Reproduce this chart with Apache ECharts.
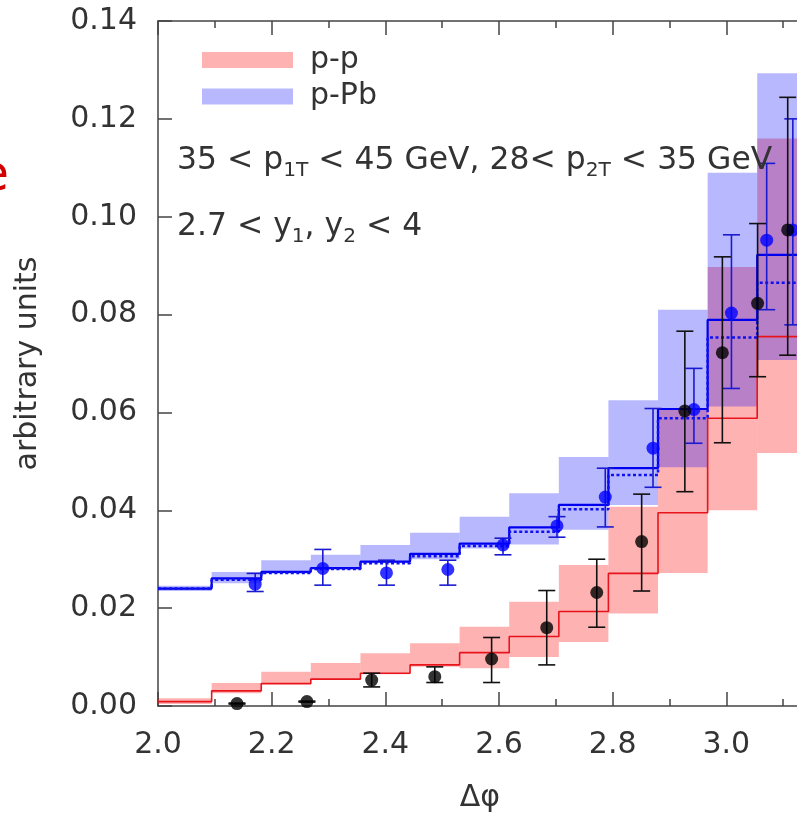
<!DOCTYPE html>
<html><head><meta charset="utf-8">
<script src="https://cdn.jsdelivr.net/npm/echarts@6/dist/echarts.min.js"></script>
<style>html,body{margin:0;padding:0;background:#fff}#c{width:797px;height:819px}</style>
</head><body><div id="c"></div>
<script>
// ---- data ----
const binEdges = [2.0, 2.0944, 2.1817, 2.2689, 2.3562, 2.4435, 2.5307, 2.6180, 2.7053, 2.7925, 2.8798, 2.9671, 3.0543, 3.1416];

const ppLine = [0.0009, 0.0031, 0.0046, 0.0055, 0.0067, 0.0084, 0.0109, 0.0142, 0.0193, 0.0271, 0.0395, 0.0588, 0.0755];
const ppBandLow  = [0.0004, 0.0026, 0.0043, 0.0053, 0.0065, 0.0080, 0.0077, 0.0100, 0.0131, 0.0189, 0.0272, 0.0400, 0.0517];
const ppBandHigh = [0.0016, 0.0047, 0.0070, 0.0088, 0.0108, 0.0128, 0.0162, 0.0213, 0.0288, 0.0407, 0.0605, 0.0897, 0.1160];

const pPbLine   = [0.0240, 0.0261, 0.0274, 0.0282, 0.0295, 0.0311, 0.0332, 0.0365, 0.0411, 0.0486, 0.0607, 0.0789, 0.0922];
const pPbDashed = [0.0240, 0.0258, 0.0272, 0.0280, 0.0292, 0.0306, 0.0327, 0.0356, 0.0402, 0.0472, 0.0588, 0.0753, 0.0865];
const pPbBandLow  = [0.0235, 0.0251, 0.0271, 0.0278, 0.0292, 0.0300, 0.0322, 0.0330, 0.0360, 0.0411, 0.0488, 0.0612, 0.0707];
const pPbBandHigh = [0.0246, 0.0274, 0.0298, 0.0309, 0.0329, 0.0354, 0.0387, 0.0435, 0.0509, 0.0625, 0.0810, 0.1090, 0.1293];

const ppPointX   = [2.139, 2.262, 2.376, 2.487, 2.587, 2.684, 2.772, 2.851, 2.927, 2.993, 3.055, 3.108];
const ppPointY   = [0.0005, 0.0009, 0.0053, 0.0060, 0.0096, 0.0160, 0.0232, 0.0336, 0.0603, 0.0722, 0.0823, 0.0973];
const ppErrLow   = [0.0004, 0.0008, 0.0039, 0.0048, 0.0048, 0.0084, 0.0161, 0.0235, 0.0438, 0.0538, 0.0673, 0.0717];
const ppErrHigh  = [0.0006, 0.0010, 0.0067, 0.0080, 0.0140, 0.0236, 0.0300, 0.0433, 0.0766, 0.0918, 0.0986, 0.1244];

const pPbPointX  = [2.171, 2.290, 2.402, 2.510, 2.607, 2.702, 2.787, 2.871, 2.943, 3.009, 3.071, 3.117];
const pPbPointY  = [0.0249, 0.0281, 0.0272, 0.0279, 0.0329, 0.0368, 0.0427, 0.0527, 0.0606, 0.0803, 0.0952, 0.0973];
const pPbErrLow  = [0.0234, 0.0247, 0.0247, 0.0247, 0.0309, 0.0345, 0.0366, 0.0447, 0.0537, 0.0649, 0.0810, 0.0779];
const pPbErrHigh = [0.0271, 0.0320, 0.0298, 0.0298, 0.0343, 0.0387, 0.0486, 0.0608, 0.0690, 0.0963, 0.1109, 0.1200];

const legendNames = ['p-p', 'p-Pb'];
const xTickInterval = 0.2;
const yTickInterval = 0.02;

// ---- helpers ----
const FONT = 'DejaVu Sans';
const TXT = '#333333';
const AX = '#444444';
function stepData(vals) {
  const d = vals.map((v, i) => [binEdges[i], v]);
  d.push([binEdges[binEdges.length - 1], vals[vals.length - 1]]);
  return d;
}
function bandData(lo, hi) { return lo.map((l, i) => [binEdges[i], binEdges[i + 1], l, hi[i]]); }
function pointData(xs, ys) { return xs.map((x, i) => [x, ys[i]]); }
function errData(xs, lo, hi) { return xs.map((x, i) => [x, lo[i], hi[i]]); }
function bandRender(params, api) {
  const p0 = api.coord([api.value(0), api.value(3)]);
  const p1 = api.coord([api.value(1), api.value(2)]);
  return { type: 'rect', shape: { x: p0[0], y: p0[1], width: p1[0] - p0[0], height: p1[1] - p0[1] }, style: api.style() };
}
function errRender(color) {
  return function (params, api) {
    const x = api.value(0);
    const a = api.coord([x, api.value(1)]);
    const b = api.coord([x, api.value(2)]);
    const w = 8.5;
    const st = { stroke: color, lineWidth: 1.6 };
    return { type: 'group', children: [
      { type: 'line', shape: { x1: a[0], y1: a[1], x2: b[0], y2: b[1] }, style: st },
      { type: 'line', shape: { x1: a[0] - w, y1: a[1], x2: a[0] + w, y2: a[1] }, style: st },
      { type: 'line', shape: { x1: b[0] - w, y1: b[1], x2: b[0] + w, y2: b[1] }, style: st }
    ] };
  };
}

const xAxisCommon = {
  type: 'value', min: 2.0, max: 3.2, interval: xTickInterval,
  axisLine: { show: true, lineStyle: { color: AX, width: 1.5 } },
  axisTick: { show: true, inside: true, length: 14, lineStyle: { color: AX, width: 1.5 } },
  minorTick: { show: true, splitNumber: 2, length: 7, lineStyle: { color: AX, width: 1.5 } },
  splitLine: { show: false }
};

const chart = echarts.init(document.getElementById('c'), null, { renderer: 'canvas' });
chart.setOption({
  animation: false,
  backgroundColor: '#ffffff',
  grid: { left: 158, top: 21, width: 682, height: 685, outerBoundsMode: 'none', containLabel: false },
  legend: {
    data: legendNames, orient: 'vertical', left: 197, top: 40, icon: 'rect',
    itemWidth: 91, itemHeight: 16, itemGap: 6.5, selectedMode: false,
    textStyle: { fontFamily: FONT, fontSize: 30, color: TXT, padding: [0, 0, 0, 12] }
  },
  xAxis: [
    Object.assign({}, xAxisCommon, {
      position: 'bottom',
      name: 'Δφ', nameLocation: 'middle', nameGap: 77,
      nameTextStyle: { fontFamily: FONT, fontSize: 30, color: TXT, padding: [0, 38, 0, 0] },
      axisLabel: { show: true, margin: 24, fontFamily: FONT, fontSize: 30, color: TXT, showMaxLabel: false,
        formatter: v => v.toFixed(1) }
    }),
    Object.assign({}, xAxisCommon, { position: 'top', axisLabel: { show: false } })
  ],
  yAxis: {
    type: 'value', min: 0, max: 0.14, interval: yTickInterval,
    name: 'arbitrary units', nameLocation: 'middle', nameGap: 115,
    nameTextStyle: { fontFamily: FONT, fontSize: 30, color: TXT },
    axisLine: { show: true, lineStyle: { color: AX, width: 1.5 } },
    axisTick: { show: true, inside: true, length: 14, lineStyle: { color: AX, width: 1.5 } },
    axisLabel: { margin: 21, fontFamily: FONT, fontSize: 30, color: TXT, formatter: v => v.toFixed(2) },
    splitLine: { show: false }
  },
  series: [
    { name: 'p-p', type: 'custom', renderItem: bandRender, clip: true, z: 1,
      itemStyle: { color: 'rgba(255,0,0,0.3)' }, encode: { x: [0, 1], y: [2, 3] },
      data: bandData(ppBandLow, ppBandHigh) },
    { name: 'p-Pb', type: 'custom', renderItem: bandRender, clip: true, z: 1,
      itemStyle: { color: 'rgba(0,0,255,0.28)' }, encode: { x: [0, 1], y: [2, 3] },
      data: bandData(pPbBandLow, pPbBandHigh) },
    { name: 'p-p line', type: 'line', step: 'end', showSymbol: false, z: 2,
      lineStyle: { color: '#e8141c', width: 1.6 }, data: stepData(ppLine) },
    { name: 'p-Pb line', type: 'line', step: 'end', showSymbol: false, z: 2,
      lineStyle: { color: '#0000ee', width: 2.2 }, data: stepData(pPbLine) },
    { name: 'p-Pb dashed', type: 'line', step: 'end', showSymbol: false, z: 2,
      lineStyle: { color: '#1010f0', width: 2.5, type: [3, 2.5] }, data: stepData(pPbDashed) },
    { name: 'p-Pb err', type: 'custom', renderItem: errRender('#1a1ad0'), clip: true, z: 3,
      encode: { x: 0, y: [1, 2] }, data: errData(pPbPointX, pPbErrLow, pPbErrHigh) },
    { name: 'p-p err', type: 'custom', renderItem: errRender('#111111'), clip: true, z: 3,
      encode: { x: 0, y: [1, 2] }, data: errData(ppPointX, ppErrLow, ppErrHigh) },
    { name: 'p-Pb data', type: 'scatter', symbol: 'circle', symbolSize: 13, z: 4,
      itemStyle: { color: '#0000ff' }, data: pointData(pPbPointX, pPbPointY) },
    { name: 'p-p data', type: 'scatter', symbol: 'circle', symbolSize: 13, z: 4,
      itemStyle: { color: '#000000' }, data: pointData(ppPointX, ppPointY) }
  ],
  graphic: [
    { type: 'text', left: 177, top: 145, z: 10,
      style: { text: '{n|35 < p}{s|1T}{n| < 45 GeV, 28< p}{s|2T}{n| < 35 GeV}', fill: TXT,
        rich: { n: { fontFamily: FONT, fontSize: 31.4, lineHeight: 31, verticalAlign: 'top', fill: TXT },
                s: { fontFamily: FONT, fontSize: 20.2, lineHeight: 20, verticalAlign: 'top', padding: [16, 0, 0, 0], fill: TXT } } } },
    { type: 'text', left: 177, top: 211, z: 10,
      style: { text: '{n|2.7 < y}{s|1}{n|, y}{s|2}{n| < 4}', fill: TXT,
        rich: { n: { fontFamily: FONT, fontSize: 31.4, lineHeight: 31, verticalAlign: 'top', fill: TXT },
                s: { fontFamily: FONT, fontSize: 20.2, lineHeight: 20, verticalAlign: 'top', padding: [16, 0, 0, 0], fill: TXT } } } },
    { type: 'text', x: 9, y: 177, z: 10,
      style: { text: 'e', fontFamily: FONT, fontSize: 50, fill: '#d40000', align: 'right', verticalAlign: 'middle' } }
  ]
});
</script></body></html>
